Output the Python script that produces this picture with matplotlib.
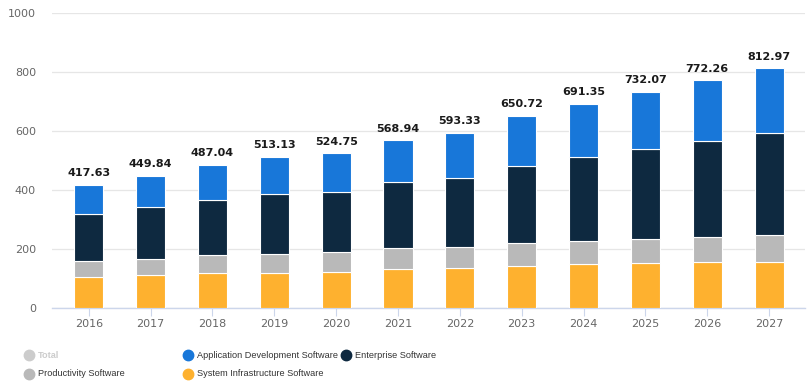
import matplotlib
matplotlib.use("Agg")
import matplotlib.pyplot as plt
from matplotlib.lines import Line2D
import numpy as np

years = ["2016", "2017", "2018", "2019", "2020", "2021", "2022", "2023", "2024", "2025", "2026", "2027"]
system_infra = [105, 112, 119, 121, 124, 132, 136, 142, 149, 153, 156, 156]
productivity = [54, 55, 60, 62, 66, 71, 71, 78, 79, 82, 86, 93]
enterprise = [160, 175, 187, 203, 203, 224, 234, 262, 285, 305, 325, 345]
app_dev = [98.6, 107.8, 121.0, 127.1, 131.8, 141.9, 152.3, 168.7, 178.4, 192.1, 205.3, 219.0]
totals = [417.63, 449.84, 487.04, 513.13, 524.75, 568.94, 593.33, 650.72, 691.35, 732.07, 772.26, 812.97]

c_sys = "#feb12f"
c_prod = "#b9b9b9"
c_ent = "#0e2940"
c_app = "#1877d9"

legend_family = ["Liberation Sans", "DejaVu Sans"]

W, H = 807, 391
fig = plt.figure(figsize=(W / 100, H / 100), dpi=100)
ax = fig.add_axes([52 / W, (H - 308.3) / H, (805 - 52) / W, (308.3 - 13.3) / H])

x = np.arange(len(years))
bw = 0.47
bottom = np.zeros(len(years))
for vals, col in [(system_infra, c_sys), (productivity, c_prod), (enterprise, c_ent), (app_dev, c_app)]:
    ax.bar(x, vals, bw, bottom=bottom, color=col, edgecolor="white", linewidth=0.8, zorder=3)
    bottom += np.array(vals)

for xi, t in zip(x, totals):
    ax.annotate(f"{t:.2f}", (xi, t), xytext=(0, 5), textcoords="offset points",
                ha="center", va="bottom", fontsize=8, color="#1a1a1a", fontweight="semibold")

ax.set_ylim(0, 1000)
ax.set_xlim(-0.594, 11.58)
ax.set_yticks([0, 200, 400, 600, 800, 1000])
ax.set_xticks(x)
ax.set_xticklabels(years)
ax.grid(axis="y", color="#e6e6e6", linewidth=0.9, zorder=0)
for s in ["top", "right", "left"]:
    ax.spines[s].set_visible(False)
ax.spines["bottom"].set_color("#ccd6eb")
ax.spines["bottom"].set_linewidth(1)
ax.tick_params(axis="y", length=0, pad=11.5, labelsize=8, labelcolor="#666666")
ax.tick_params(axis="x", length=6, color="#ccd6eb", labelsize=8, labelcolor="#666666", pad=2)

legend_items = [
    ("Total", "#cccccc", "#cccccc", 29, 355),
    ("Application Development Software", c_app, "#333333", 187.7, 355),
    ("Enterprise Software", c_ent, "#333333", 345.7, 355),
    ("Productivity Software", c_prod, "#333333", 29, 374),
    ("System Infrastructure Software", c_sys, "#333333", 187.7, 374),
]
for label, mc, tc, mx, my in legend_items:
    fig.add_artist(Line2D([mx / W], [1 - my / H], marker="o", markersize=7.5, color=mc,
                          linestyle="none", transform=fig.transFigure))
    fig.text((mx + 9) / W, 1 - my / H, label, ha="left", va="center", fontsize=6.6, color=tc,
             family=legend_family, fontweight="bold" if label == "Total" else "normal")

fig.savefig("out.png", dpi=100)
